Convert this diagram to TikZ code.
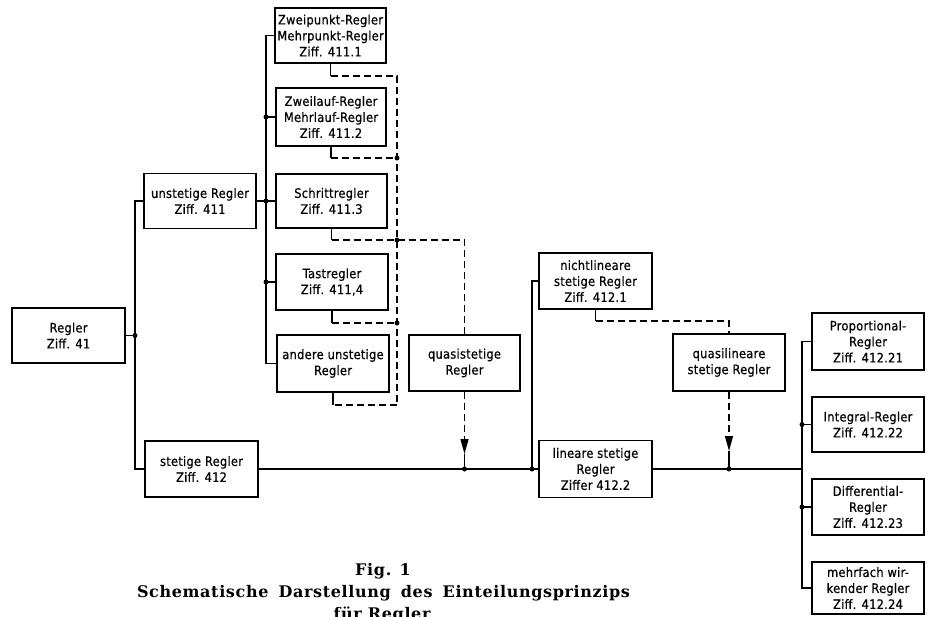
\documentclass[tikz,border=0pt]{standalone}
\usepackage{fontspec}
\setmainfont{Liberation Serif}
\newfontfamily\boxfont[LetterSpace=2,FakeStretch=0.88,FakeBold=0.6]{DejaVu Sans}
\newfontfamily\capfont[LetterSpace=4]{DejaVu Serif}
\usetikzlibrary{arrows.meta}
\begin{document}
\begin{tikzpicture}[x=1pt,y=-1pt,
  box/.style={draw, line width=1.4pt, minimum width=112pt, minimum height=56pt,
    inner sep=0pt, align=center, font=\boxfont\fontsize{13}{16}\selectfont},
  wire/.style={line width=1.3pt},
  dashline/.style={line width=1.3pt, dash pattern=on 7pt off 4pt},
  dot/.style={circle, fill, inner sep=0pt, minimum size=5pt},
  tip/.style={-{Triangle[length=15pt,width=8pt]}},
  captxt/.style={anchor=base, inner sep=0pt, font=\capfont\bfseries\fontsize{16}{20}\selectfont}]
\useasboundingbox (0,0) rectangle (928,616);

% boxes
\node[box, minimum width=113pt, minimum height=55pt] (reg) at (68.5,335.5) {Regler\\Ziff. 41};
\node[box, minimum height=55pt] (unst) at (200,201) {unstetige Regler\\Ziff. 411};
\node[box, minimum width=113pt] (stet) at (201.5,469) {stetige Regler\\Ziff. 412};
\node[box, minimum width=111pt, minimum height=55pt] (zwei) at (330.5,35.5) {Zweipunkt-Regler\\Mehrpunkt-Regler\\Ziff. 411.1};
\node[box, minimum width=110pt, minimum height=58pt] (zlauf) at (331,117) {Zweilauf-Regler\\Mehrlauf-Regler\\Ziff. 411.2};
\node[box, minimum width=111pt, minimum height=54pt] (schritt) at (331.5,201) {Schrittregler\\Ziff. 411.3};
\node[box] (tast) at (332,282) {Tastregler\\Ziff. 411,4};
\node[box, minimum height=57pt] (andere) at (333,363.5) {andere unstetige\\Regler};
\node[box, minimum width=111pt] (quasi) at (464.5,363) {quasistetige\\Regler};
\node[box, minimum width=113pt] (nichtlin) at (595.5,281) {nichtlineare\\stetige Regler\\Ziff. 412.1};
\node[box, minimum width=113pt, minimum height=57pt] (linear) at (595.5,469) {lineare stetige\\Regler\\Ziffer 412.2};
\node[box, minimum height=57pt] (quasilin) at (729,362.5) {quasilineare\\stetige Regler};
\node[box, minimum height=57pt] (prop) at (868,341.5) {Proportional-\\Regler\\Ziff. 412.21};
\node[box, minimum height=55pt] (integ) at (868,424.5) {Integral-Regler\\Ziff. 412.22};
\node[box] (diff) at (868,507) {Differential-\\Regler\\Ziff. 412.23};
\node[box, minimum height=52pt] (mehr) at (868,588) {mehrfach wir-\\kender Regler\\Ziff. 412.24};

% junction coordinates
\coordinate (j1) at (135,335.5);
\coordinate (j2) at (266,201);
\coordinate (b1) at (397,76);
\coordinate (b2) at (397,158);
\coordinate (b3) at (397,240);
\coordinate (b4) at (397,323);
\coordinate (b5) at (397,405);
\coordinate (m1) at (464.5,469);
\coordinate (a1) at (464.5,454);
\coordinate (m2) at (532,469);
\coordinate (n1) at (595.5,321);
\coordinate (m3) at (729,469);
\coordinate (a2) at (729,451);
\coordinate (j4) at (802,469);

% Regler -> unstetig / stetig
\draw[wire] (reg.east) -- (j1);
\draw[wire] (unst.west) -- (unst.west -| j1) -- (stet.west -| j1) -- (stet.west);
\node[dot] (d1) at (j1) {};

% unstetige branches
\draw[wire] (zwei.west) -- (zwei.west -| j2) -- (andere.west -| j2) -- (andere.west);
\draw[wire] (unst.east) -- (schritt.west);
\draw[wire] (zlauf.west -| j2) -- (zlauf.west);
\draw[wire] (tast.west -| j2) -- (tast.west);
\node[dot] (d2) at (zlauf.west -| j2) {};
\node[dot] (d3) at (j2) {};
\node[dot] (d4) at (tast.west -| j2) {};

% dashed collector
\draw[wire] (zwei.south) -- (zwei.south |- b1);
\draw[wire] (zlauf.south) -- (zlauf.south |- b2);
\draw[wire] (schritt.south) -- (schritt.south |- b3);
\draw[wire] (tast.south) -- (tast.south |- b4);
\draw[wire] (andere.south) -- (andere.south |- b5);
\draw[dashline] (zwei.south |- b1) -- (b1) -- (b5) -- (andere.south |- b5);
\draw[dashline] (zlauf.south |- b2) -- (b2);
\draw[dashline] (schritt.south |- b3) -- (b3) -- (b3 -| quasi.north) -- (quasi.north);
\draw[dashline] (tast.south |- b4) -- (b4);
\node[dot] (d5) at (b2) {};
\node[dot] (d6) at (b3) {};
\node[dot] (d7) at (b4) {};

% quasistetig arrow
\draw[dashline, tip] (quasi.south) -- (a1);
\draw[wire] (a1) -- (m1);

% main line
\draw[wire] (stet.east) -- (linear.west);
\node[dot] (d8) at (m1) {};
\node[dot] (d9) at (m2) {};
\draw[wire] (m2) |- (nichtlin.west);

% nichtlinear -> quasilinear
\draw[wire] (nichtlin.south) -- (n1);
\draw[dashline] (n1) -- (n1 -| quasilin.north) -- (quasilin.north);
\draw[dashline, tip] (quasilin.south) -- (a2);
\draw[wire] (a2) -- (m3);
\node[dot] (d10) at (m3) {};

% linear -> right column
\draw[wire] (linear.east) -- (j4);
\draw[wire] (prop.west) -- (prop.west -| j4) -- (mehr.west -| j4) -- (mehr.west);
\draw[wire] (integ.west -| j4) -- (integ.west);
\draw[wire] (diff.west -| j4) -- (diff.west);
\node[dot] (d11) at (integ.west -| j4) {};
\node[dot] (d12) at (diff.west -| j4) {};

% caption
\node[captxt] (cap0) at (383,575) {Fig. 1};
\node[captxt] (cap1) at (383.5,597) {\makebox[493pt][s]{Schematische Darstellung des Einteilungsprinzips}};
\node[captxt] (cap2) at (382,619) {für Regler};
\end{tikzpicture}
\end{document}
